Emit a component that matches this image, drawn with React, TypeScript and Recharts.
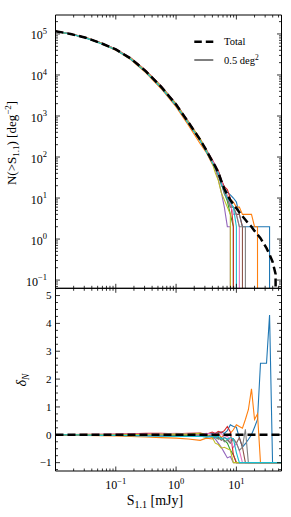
import React from 'react';
import { LineChart, Line, XAxis, YAxis } from 'recharts';

// ---- data -------------------------------------------------------------
// flux grid S_1.1 [mJy]
const S_GRID = [0.01, 0.0178, 0.0316, 0.0562, 0.1, 0.178, 0.316, 0.562, 1.0, 1.58, 2.51, 3.16, 3.98, 4.47, 5.01, 5.62, 6.31, 7.08, 7.94, 8.91, 10.0, 11.2, 12.6, 14.1, 15.8, 17.8, 20.0, 22.4, 25.1, 28.2, 31.6, 35.5, 39.8, 44.7, 50.1, 56.2];

// cumulative counts N(>S) [deg^-2]
const N_TOTAL = [117000, 100000, 81000, 60000, 42000, 25000, 12300, 5200, 1900, 720, 263, 148, 79, 59, 42, 26, 16.6, 12, 8.9, 7.1, 5.6, 4.5, 3.6, 2.95, 2.4, 2.0, 1.58, 1.29, 1.05, 0.79, 0.6, 0.42, 0.28, 0.14, 0, 0];
const N_F1 = [117000, 100000, 82000, 61000, 42400, 25500, 12500, 5300, 1960, 735, 263, 152, 83, 59, 45, 28.6, 17.4, 13.8, 12, 10, 8, 4, 2, 2, 2, 2, 2, 2, 2, 2, 2, 2, 0, 0, 0, 0];
const N_F2 = [116000, 99000, 79400, 58200, 40300, 23500, 11300, 4680, 1670, 612, 210, 130, 67, 56, 44, 23.4, 16.6, 11.4, 9.3, 8, 6, 6, 4, 4, 4, 4, 2, 2, 0, 0, 0, 0, 0, 0, 0, 0];
const N_F3 = [117000, 100000, 81000, 59400, 41600, 24500, 12050, 5040, 1840, 700, 250, 136, 75, 53, 36, 23.4, 13.3, 8.4, 4, 2, 0, 0, 0, 0, 0, 0, 0, 0, 0, 0, 0, 0, 0, 0, 0, 0];
const N_F4 = [118000, 101000, 82600, 61200, 43300, 26000, 12900, 5460, 1980, 756, 279, 151, 87, 62, 47, 28, 19, 16, 10, 2, 0, 0, 0, 0, 0, 0, 0, 0, 0, 0, 0, 0, 0, 0, 0, 0];
const N_F5 = [117000, 100000, 80200, 59400, 41200, 24500, 11900, 4990, 1800, 684, 252, 139, 71, 50, 28, 14, 6, 2, 2, 0, 0, 0, 0, 0, 0, 0, 0, 0, 0, 0, 0, 0, 0, 0, 0, 0];
const N_F6 = [117000, 100000, 81000, 60600, 42400, 25200, 12500, 5250, 1900, 720, 268, 141, 79, 56, 38, 21, 15, 10, 6, 6, 4, 4, 2, 0, 0, 0, 0, 0, 0, 0, 0, 0, 0, 0, 0, 0];
const N_F7 = [118000, 101000, 81800, 61200, 42800, 25700, 12700, 5400, 2000, 750, 263, 155, 81, 64, 42, 27, 15, 11.4, 7, 4, 4, 2, 0, 0, 0, 0, 0, 0, 0, 0, 0, 0, 0, 0, 0, 0];
const N_F8 = [117000, 100000, 81000, 60000, 41600, 24700, 12300, 5250, 1940, 735, 258, 148, 73, 56, 36, 23.4, 12.5, 9.6, 6, 6, 4, 2, 2, 2, 0, 0, 0, 0, 0, 0, 0, 0, 0, 0, 0, 0];
const N_F9 = [117000, 100000, 81800, 60000, 42000, 25200, 12400, 5300, 1960, 735, 276, 148, 71, 41, 27, 13.5, 9, 6, 4, 0, 0, 0, 0, 0, 0, 0, 0, 0, 0, 0, 0, 0, 0, 0, 0, 0];
const N_F10 = [117000, 100000, 80200, 58800, 41200, 24200, 11800, 4940, 1790, 677, 250, 136, 75, 53, 40, 22, 15, 10, 8, 6, 2, 0, 0, 0, 0, 0, 0, 0, 0, 0, 0, 0, 0, 0, 0, 0];

// fractional deviation delta_N
const D_TOTAL = [0, 0, 0, 0, 0, 0, 0, 0, 0, 0, 0, 0, 0, 0, 0, 0, 0, 0, 0, 0, 0, 0, 0, 0, 0, 0, 0, 0, 0, 0, 0, 0, 0, 0, 0, 0];
const D_F1 = [0, 0, 0.01, 0.01, 0.01, 0.02, 0.02, 0.02, 0.03, 0.02, 0.0, 0.03, 0.05, 0.0, 0.08, 0.1, 0.05, 0.15, 0.36, 0.3, 0.27, -0.11, -0.44, -0.32, -0.17, 0.0, 0.27, 0.55, 2.57, 2.57, 2.57, 4.3, -1, -1, -1, -1];
const D_F2 = [-0.01, -0.01, -0.02, -0.03, -0.04, -0.06, -0.08, -0.1, -0.12, -0.15, -0.2, -0.12, -0.15, -0.05, 0.05, -0.1, 0.0, -0.05, 0.05, 0.18, 0.36, 0.3, 0.24, 0.55, 0.9, 1.65, 0.55, 0.75, -1, -1, -1, -1, -1, -1, -1, -1];
const D_F3 = [0, 0, 0, -0.01, -0.01, -0.02, -0.02, -0.03, -0.03, -0.03, -0.05, -0.08, -0.05, -0.1, -0.15, -0.1, -0.2, -0.3, -0.55, -0.72, -1, -1, -1, -1, -1, -1, -1, -1, -1, -1, -1, -1, -1, -1, -1, -1];
const D_F4 = [0.01, 0.01, 0.02, 0.02, 0.03, 0.04, 0.05, 0.05, 0.04, 0.05, 0.06, 0.02, 0.1, 0.05, 0.12, 0.08, 0.15, 0.3, 0.1, -0.72, -1, -1, -1, -1, -1, -1, -1, -1, -1, -1, -1, -1, -1, -1, -1, -1];
const D_F5 = [0, 0, -0.01, -0.01, -0.02, -0.02, -0.03, -0.04, -0.05, -0.05, -0.04, -0.06, -0.1, -0.15, -0.3, -0.45, -0.64, -0.83, -0.78, -1, -1, -1, -1, -1, -1, -1, -1, -1, -1, -1, -1, -1, -1, -1, -1, -1];
const D_F6 = [0, 0, 0, 0.01, 0.01, 0.01, 0.02, 0.01, 0, 0.0, 0.02, -0.05, 0.0, -0.05, -0.1, -0.2, -0.1, -0.15, -0.3, -0.15, -0.3, -0.1, -0.44, -1, -1, -1, -1, -1, -1, -1, -1, -1, -1, -1, -1, -1];
const D_F7 = [0.01, 0.01, 0.01, 0.02, 0.02, 0.03, 0.03, 0.04, 0.05, 0.04, 0.0, 0.05, 0.02, 0.08, 0.0, 0.05, -0.1, -0.05, -0.2, -0.45, -0.3, -0.56, -1, -1, -1, -1, -1, -1, -1, -1, -1, -1, -1, -1, -1, -1];
const D_F8 = [0, 0, 0, 0, -0.01, -0.01, 0, 0.01, 0.02, 0.02, -0.02, 0.0, -0.08, -0.05, -0.15, -0.1, -0.25, -0.2, -0.3, -0.15, -0.29, -0.56, -0.44, 0.2, -1, -1, -1, -1, -1, -1, -1, -1, -1, -1, -1, -1];
const D_F9 = [0, 0, 0.01, 0, 0, 0.01, 0.01, 0.02, 0.03, 0.02, 0.05, 0.0, -0.1, -0.3, -0.35, -0.48, -0.45, -0.5, -0.55, -1, -1, -1, -1, -1, -1, -1, -1, -1, -1, -1, -1, -1, -1, -1, -1, -1];
const D_F10 = [0, 0, -0.01, -0.02, -0.02, -0.03, -0.04, -0.05, -0.06, -0.06, -0.05, -0.08, -0.05, -0.1, -0.05, -0.15, -0.1, -0.17, -0.1, -0.15, -0.64, -1, -1, -1, -1, -1, -1, -1, -1, -1, -1, -1, -1, -1, -1, -1];

// ticks
const X_MAJOR = [0.1, 1, 10];
const Y_TOP_MAJOR = [0.1, 1, 10, 100, 1000, 10000, 100000];
const Y_BOT_MAJOR = [-1, 0, 1, 2, 3, 4, 5];

const LEGEND_ITEMS = [
  { label: 'Total', sup: '', dashed: true },
  { label: '0.5 deg', sup: '2', dashed: false },
];

// ---- configuration ----------------------------------------------------
const FIELDS = [
  { key: 'f1', color: '#1f77b4', n: N_F1, d: D_F1 },
  { key: 'f2', color: '#ff7f0e', n: N_F2, d: D_F2 },
  { key: 'f3', color: '#2ca02c', n: N_F3, d: D_F3 },
  { key: 'f4', color: '#d62728', n: N_F4, d: D_F4 },
  { key: 'f5', color: '#9467bd', n: N_F5, d: D_F5 },
  { key: 'f6', color: '#8c564b', n: N_F6, d: D_F6 },
  { key: 'f7', color: '#e377c2', n: N_F7, d: D_F7 },
  { key: 'f8', color: '#7f7f7f', n: N_F8, d: D_F8 },
  { key: 'f9', color: '#bcbd22', n: N_F9, d: D_F9 },
  { key: 'f10', color: '#17becf', n: N_F10, d: D_F10 },
];

const X_DOMAIN: [number, number] = [0.01, 56];
const Y_TOP_DOMAIN: [number, number] = [0.063, 290000];
const Y_BOT_DOMAIN: [number, number] = [-1.3, 5.26];

// an empty bin sits at minus infinity on a log axis
const LOG_FLOOR = 1e-300;
const pos = (v: number) => (v > 0 ? v : LOG_FLOOR);

const TOP_ROWS = S_GRID.map((s, i) => {
  const row: any = { s, total: pos(N_TOTAL[i]) };
  FIELDS.forEach((f) => { row[f.key] = pos(f.n[i]); });
  return row;
});
const BOT_ROWS = S_GRID.map((s, i) => {
  const row: any = { s, total: D_TOTAL[i] };
  FIELDS.forEach((f) => { row[f.key] = f.d[i]; });
  return row;
});

// minor ticks from the major decades
const withMinors = (majors: number[], lo: number, hi: number) => {
  const out: number[] = [];
  const first = majors[0] / 10;
  for (let d = first; d <= majors[majors.length - 1] * 1.0001; d *= 10) {
    for (let k = 1; k <= 9; k++) {
      const v = Number((d * k).toPrecision(6));
      if (v >= lo && v <= hi) out.push(v);
    }
  }
  return out;
};
const X_TICKS = withMinors(X_MAJOR, X_DOMAIN[0] * 1.001, X_DOMAIN[1]);
const Y_TOP_TICKS = withMinors(Y_TOP_MAJOR, Y_TOP_DOMAIN[0], Y_TOP_DOMAIN[1]);
const Y_BOT_TICKS: number[] = [];
for (let v = -1.25; v <= 5.25; v += 0.25) Y_BOT_TICKS.push(v);

// ---- styling ----------------------------------------------------------
const FONT = '"Liberation Serif", "DejaVu Serif", "Times New Roman", serif';
const TK = { major: 4.5, minor: 2.5, w: 0.8 };
const isDecade = (v: number) => Math.abs(Math.log10(v) - Math.round(Math.log10(v))) < 1e-6;
const expText = (v: number) => {
  const e = Math.round(Math.log10(v));
  return e < 0 ? '\u2212' + Math.abs(e) : String(e);
};

const xTick = (side: 'bottom' | 'top', labels: boolean) => (p: any) => {
  const v = p.payload.value;
  const major = isDecade(v);
  const len = major ? TK.major : TK.minor;
  const dir = side === 'bottom' ? -1 : 1;
  return (
    <g>
      <line x1={p.x} x2={p.x} y1={p.y} y2={p.y + dir * len} stroke="#000" strokeWidth={TK.w} />
      {labels && major && (
        <text x={p.x} y={p.y + 17.5} textAnchor="middle" fontFamily={FONT} fontSize={12} fill="#000">
          10<tspan dy={-5} fontSize={8.5}>{expText(v)}</tspan>
        </text>
      )}
    </g>
  );
};

const yLogTick = (side: 'left' | 'right', labels: boolean) => (p: any) => {
  const v = p.payload.value;
  const major = isDecade(v);
  const len = major ? TK.major : TK.minor;
  const dir = side === 'left' ? 1 : -1;
  return (
    <g>
      <line x1={p.x} x2={p.x + dir * len} y1={p.y} y2={p.y} stroke="#000" strokeWidth={TK.w} />
      {labels && major && (
        <text x={p.x - 8.5} y={p.y + 5.5} textAnchor="end" fontFamily={FONT} fontSize={12} fill="#000">
          10<tspan dy={-5.5} fontSize={8.5}>{expText(v)}</tspan>
        </text>
      )}
    </g>
  );
};

const yLinTick = (side: 'left' | 'right', labels: boolean) => (p: any) => {
  const v = p.payload.value;
  const major = Math.abs(v - Math.round(v)) < 1e-6;
  const len = major ? TK.major : TK.minor;
  const dir = side === 'left' ? 1 : -1;
  return (
    <g>
      <line x1={p.x} x2={p.x + dir * len} y1={p.y} y2={p.y} stroke="#000" strokeWidth={TK.w} />
      {labels && major && (
        <text x={p.x - 4} y={p.y + 3.8} textAnchor="end" fontFamily={FONT} fontSize={11} fill="#000">
          {v < 0 ? '\u2212' + Math.abs(Math.round(v)) : String(Math.round(v))}
        </text>
      )}
    </g>
  );
};

const AXIS_LINE = { stroke: '#000', strokeWidth: 1 };

const seriesLines = () => [
  ...FIELDS.map((f) => (
    <Line key={f.key} type="linear" dataKey={f.key} stroke={f.color} strokeWidth={1.1} dot={false} activeDot={false} isAnimationActive={false} />
  )),
  <Line key="total" type="linear" dataKey="total" stroke="#000" strokeWidth={2.5} strokeDasharray="8 4" dot={false} activeDot={false} isAnimationActive={false} />,
];

export default function App() {
  return (
    <div style={{ position: 'absolute', left: 0, top: 0, width: 291, height: 517, background: '#fff' }}>
      {/* upper panel: cumulative counts */}
      <div style={{ position: 'absolute', left: 0, top: 0 }}>
        <LineChart width={291} height={300} data={TOP_ROWS} margin={{ top: 14, right: 8.5, bottom: 0, left: 0 }}>
          <XAxis dataKey="s" type="number" scale="log" domain={X_DOMAIN} allowDataOverflow ticks={X_TICKS} interval={0}
            height={11.7} tickSize={0} tickMargin={0} tickLine={false} axisLine={AXIS_LINE} tick={xTick('bottom', false)} />
          <XAxis xAxisId="t" orientation="top" dataKey="s" type="number" scale="log" domain={X_DOMAIN} allowDataOverflow ticks={X_TICKS} interval={0}
            height={1} tickSize={0} tickMargin={0} tickLine={false} axisLine={AXIS_LINE} tick={xTick('top', false)} />
          <YAxis type="number" scale="log" domain={Y_TOP_DOMAIN} allowDataOverflow ticks={Y_TOP_TICKS} interval={0}
            width={55.5} tickSize={0} tickMargin={0} tickLine={false} axisLine={AXIS_LINE} tick={yLogTick('left', true)} />
          <YAxis yAxisId="r" orientation="right" type="number" scale="log" domain={Y_TOP_DOMAIN} allowDataOverflow ticks={Y_TOP_TICKS} interval={0}
            width={1} tickSize={0} tickMargin={0} tickLine={false} axisLine={AXIS_LINE} tick={yLogTick('right', false)} />
          {seriesLines()}
        </LineChart>
      </div>

      {/* lower panel: fractional deviation */}
      <div style={{ position: 'absolute', left: 0, top: 280 }}>
        <LineChart width={291} height={237} data={BOT_ROWS} margin={{ top: 7.3, right: 8.5, bottom: 0, left: 0 }}>
          <XAxis dataKey="s" type="number" scale="log" domain={X_DOMAIN} allowDataOverflow ticks={X_TICKS} interval={0}
            height={46} tickSize={0} tickMargin={0} tickLine={false} axisLine={AXIS_LINE} tick={xTick('bottom', true)} />
          <XAxis xAxisId="t" orientation="top" dataKey="s" type="number" scale="log" domain={X_DOMAIN} allowDataOverflow ticks={X_TICKS} interval={0}
            height={1} tickSize={0} tickMargin={0} tickLine={false} axisLine={AXIS_LINE} tick={xTick('top', false)} />
          <YAxis type="number" domain={Y_BOT_DOMAIN} allowDataOverflow ticks={Y_BOT_TICKS} interval={0}
            width={55.5} tickSize={0} tickMargin={0} tickLine={false} axisLine={AXIS_LINE} tick={yLinTick('left', true)} />
          <YAxis yAxisId="r" orientation="right" type="number" domain={Y_BOT_DOMAIN} allowDataOverflow ticks={Y_BOT_TICKS} interval={0}
            width={1} tickSize={0} tickMargin={0} tickLine={false} axisLine={AXIS_LINE} tick={yLinTick('right', false)} />
          {seriesLines()}
        </LineChart>
      </div>

      {/* titles and legend */}
      <svg width={291} height={517} style={{ position: 'absolute', left: 0, top: 0, pointerEvents: 'none' }} fontFamily={FONT}>
        <text transform="translate(16,143) rotate(-90)" textAnchor="middle" fontSize={13} fill="#000">
          N(&gt;S<tspan dy={3} fontSize={9}>1.1</tspan><tspan dy={-3}>) [deg</tspan><tspan dy={-5} fontSize={9}>{'\u22122'}</tspan><tspan dy={5}>]</tspan>
        </text>
        <text transform="translate(26,380) rotate(-90)" textAnchor="middle" fontSize={14} fontStyle="italic" fill="#000">
          {'\u03b4'}<tspan dy={3} fontSize={9.5}>N</tspan>
        </text>
        <text x={155} y={505} textAnchor="middle" fontSize={14} fill="#000">
          S<tspan dy={3} fontSize={10}>1.1</tspan><tspan dy={-3}> [mJy]</tspan>
        </text>
        {LEGEND_ITEMS.map((it, i) => {
          const y = 41.7 + i * 18.3;
          return (
            <g key={it.label}>
              <line x1={194.3} x2={213.3} y1={y} y2={y} stroke="#000" strokeWidth={it.dashed ? 2.5 : 1} strokeDasharray={it.dashed ? '7.5 4' : undefined} />
              <text x={224} y={y + 3.6} fontSize={10.5} fill="#000">
                {it.label}{it.sup && <tspan dy={-4} fontSize={7.5}>{it.sup}</tspan>}
              </text>
            </g>
          );
        })}
      </svg>
    </div>
  );
}
